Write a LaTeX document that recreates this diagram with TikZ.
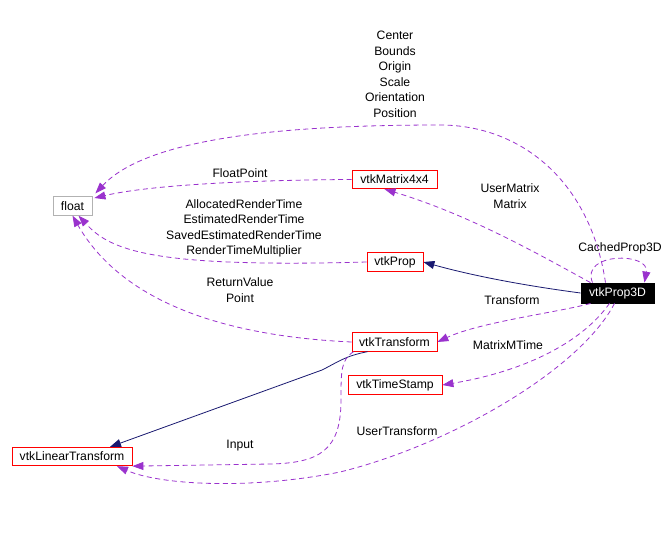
\documentclass[tikz,border=0pt]{standalone}
\usepackage{fontspec}
\setmainfont{Liberation Sans}
\usetikzlibrary{arrows.meta, calc}

\definecolor{edgepurple}{HTML}{9A32CD}
\definecolor{edgenavy}{HTML}{191970}

\begin{document}
\begin{tikzpicture}[
    x=1pt, y=-1pt,
    every node/.style={font=\fontsize{12.2}{15.5}\selectfont},
    box/.style={rectangle, draw=red, line width=0.8pt, inner sep=0pt,
                minimum height=18.5pt, fill=white},
    member/.style={draw=edgepurple, line width=0.8pt, dash pattern=on 5pt off 3.5pt,
                   -{Triangle[length=11pt, width=8pt]}, edgepurple},
    inherit/.style={draw=edgenavy, line width=0.8pt,
                    -{Triangle[length=11pt, width=8pt]}, edgenavy},
    lbl/.style={align=center, inner sep=0pt}
]
\useasboundingbox (0,0) rectangle (666,544);

% classes
\node[box, draw=black!30, minimum width=39pt] (float) at (72.5,206) {float};
\node[box, minimum width=85pt]  (matrix) at (394.5,179.5) {vtkMatrix4x4};
\node[box, minimum width=56pt]  (prop)   at (395,262)   {vtkProp};
\node[box, fill=black, draw=black, text=white, minimum width=73pt,
      minimum height=20pt] (prop3d) at (617.5,293) {vtkProp3D};
\node[box, minimum width=85pt]  (trans)  at (394.5,342) {vtkTransform};
\node[box, minimum width=94pt]  (stamp)  at (395,385)   {vtkTimeStamp};
\node[box, minimum width=120pt] (lin)    at (72,456.5)  {vtkLinearTransform};

% edge labels
\node[lbl] (lcenter) at (395,74.5) {Center\\Bounds\\Origin\\Scale\\Orientation\\Position};
\node[lbl] (lfloatpt) at (240,173) {FloatPoint};
\node[lbl] (lrender) at (244,228.5) {AllocatedRenderTime\\EstimatedRenderTime\\SavedEstimatedRenderTime\\RenderTimeMultiplier};
\node[lbl] (lreturn) at (240,290) {ReturnValue\\Point};
\node[lbl] (lmatrix) at (510,196) {UserMatrix\\Matrix};
\node[lbl] (lcached) at (620,248) {CachedProp3D};
\node[lbl] (ltrans)  at (512,300) {Transform};
\node[lbl] (lmtime)  at (508,345) {MatrixMTime};
\node[lbl] (linput)  at (240,446) {Input};
\node[lbl] (luser)   at (397,431) {UserTransform};

% inheritance
\draw[inherit] (prop3d.west) .. controls (520,285) and (470,275) .. (prop.east);
\draw[inherit] ($(trans.south west)+(16,0)$) .. controls (345,356) and (338,362) .. (322,370)
    -- ($(lin.north)+(38,0)$);

% members
\draw[member] ($(prop3d.north)+(-12,0)$) .. controls (590,180) and (520,125) .. (440,125)
    .. controls (300,125) and (150,135) .. ($(float.north east)+(3,-3)$);
\draw[member] (matrix.west) .. controls (250,180) and (150,185) .. ($(float.east)+(2,-8)$);
\draw[member] ($(prop3d.north)+(-27,0)$) .. controls (540,255) and (470,215) .. ($(matrix.south)+(-10,0)$);
\draw[member] (prop.west) .. controls (150,268) and (110,250) .. ($(float.south)+(6,0)$);
\draw[member] (trans.west) .. controls (200,335) and (115,290) .. ($(float.south)+(0,0)$);
\draw[member] ($(prop3d.north)+(-25,0)$) .. controls (580,252) and (650,252) .. ($(prop3d.north east)+(-10,0)$);
\draw[member] ($(prop3d.south west)+(10,0)$) .. controls (560,312) and (480,322) .. (trans.east);
\draw[member] ($(prop3d.south)+(-8,0)$) .. controls (580,345) and (520,372) .. (stamp.east);
\draw[member] ($(trans.south west)+(2,0)$) .. controls (341,360) and (341,370) .. (341,400)
    .. controls (341,450) and (320,463) .. (270,464) -- (lin.south east);
\draw[member] ($(prop3d.south)+(-3,0)$) .. controls (580,370) and (450,445) .. (340,472)
    .. controls (250,490) and (160,485) .. ($(lin.south)+(45,0)$);
\end{tikzpicture}
\end{document}
